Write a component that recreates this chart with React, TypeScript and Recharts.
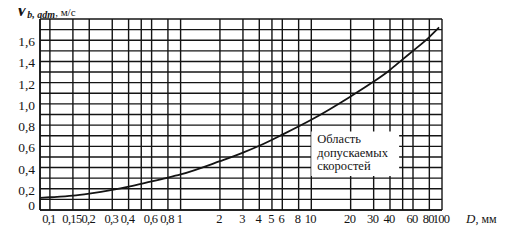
import { LineChart, Line, XAxis, YAxis, CartesianGrid, ReferenceArea } from "recharts";

// диаметр D, мм (лог. шкала) и допустимая скорость V, м/с
const dValues = [0.084, 0.1, 0.15, 0.2, 0.3, 0.4, 0.6, 0.8, 1, 2, 3, 4, 6, 10, 20, 30, 40, 50, 60, 80, 95];
const vValues = [0.115, 0.12, 0.135, 0.155, 0.19, 0.22, 0.27, 0.305, 0.335, 0.46, 0.54, 0.605, 0.71, 0.85, 1.07, 1.21, 1.32, 1.42, 1.5, 1.63, 1.72];

const xTicks = [0.1, 0.15, 0.2, 0.3, 0.4, 0.5, 0.6, 0.8, 1, 2, 3, 4, 5, 6, 8, 10, 20, 30, 40, 50, 60, 80, 100];
const xTickLabels = ["0,1", "0,15", "0,2", "0,3", "0,4", "", "0,6", "0,8", "1", "2", "3", "4", "5", "6", "8", "10", "20", "30", "40", "", "60", "80", "100"];

const yTicks = [0, 0.1, 0.2, 0.3, 0.4, 0.5, 0.6, 0.7, 0.8, 0.9, 1.0, 1.1, 1.2, 1.3, 1.4, 1.5, 1.6, 1.7, 1.8];
const yTickLabels = ["0", "", "0,2", "", "0,4", "", "0,6", "", "0,8", "", "1,0", "", "1,2", "", "1,4", "", "1,6", "", ""];

const regionLines = ["Область", "допускаемых", "скоростей"];

const data = dValues.map((d, i) => ({ d, v: vValues[i] }));

const FONT = '"Liberation Serif", "DejaVu Serif", serif';
const INK = "#141414";

function XTick(props: any) {
  const { x, y, payload } = props;
  const label = xTickLabels[xTicks.indexOf(payload.value)];
  if (!label) return null;
  return (
    <text x={x - 1} y={y} dy={10} textAnchor="middle" fontSize={12.5} letterSpacing={-0.7} fontFamily={FONT} fill={INK}>
      {label}
    </text>
  );
}

function YTick(props: any) {
  const { x, y, payload } = props;
  const label = yTickLabels[yTicks.indexOf(payload.value)];
  if (!label) return null;
  return (
    <text x={x} y={y} dy={payload.value === 0 ? 0 : 6} textAnchor="end" fontSize={13.5} fontFamily={FONT} fill={INK}>
      {label}
    </text>
  );
}

function RegionLabel(props: any) {
  const vb = props.viewBox || {};
  return (
    <g>
      {regionLines.map((t, i) => (
        <text key={t} x={vb.x + 6} y={vb.y + 12 + i * 13.5} fontSize={12.5} fontFamily={FONT} fill={INK}>
          {t}
        </text>
      ))}
    </g>
  );
}

export default function App() {
  return (
    <div style={{ position: "relative", width: 514, height: 244, margin: -8, background: "#fff", fontFamily: FONT, color: INK }}>
      <LineChart width={514} height={244} data={data} margin={{ top: 19, right: 72, bottom: 0, left: 0 }}>
        <CartesianGrid stroke={INK} strokeWidth={1.4} />
        <XAxis
          dataKey="d"
          type="number"
          scale="log"
          domain={[0.084, 100]}
          allowDataOverflow
          ticks={xTicks}
          interval={0}
          tickSize={0}
          tickMargin={3}
          tickLine={false}
          axisLine={{ stroke: INK, strokeWidth: 1.6 }}
          tick={<XTick />}
          height={34}
        />
        <YAxis
          type="number"
          domain={[0, 1.8]}
          ticks={yTicks}
          interval={0}
          width={40}
          tickSize={0}
          tickMargin={5}
          tickLine={false}
          axisLine={{ stroke: INK, strokeWidth: 1.6 }}
          tick={<YTick />}
        />
        <ReferenceArea
          x1={10}
          x2={47}
          y1={0.32}
          y2={0.74}
          fill="#fff"
          fillOpacity={1}
          stroke="none"
          label={<RegionLabel />}
        />
        <Line
          type="monotone"
          dataKey="v"
          stroke={INK}
          strokeWidth={1.8}
          dot={false}
          isAnimationActive={false}
        />
      </LineChart>
      <svg width={120} height={22} style={{ position: "absolute", left: 14, top: 0 }}>
        <text x={2} y={16} fontFamily={FONT} fill={INK}>
          <tspan fontSize={17} fontStyle="italic" fontWeight="bold">V</tspan>
          <tspan fontSize={10} fontStyle="italic" fontWeight="bold" dy={2}>b, adm</tspan>
          <tspan fontSize={11} dy={-2}>, м/с</tspan>
        </text>
      </svg>
      <svg width={50} height={20} style={{ position: "absolute", left: 464, top: 211 }}>
        <text x={2} y={12} fontFamily={FONT} fill={INK}>
          <tspan fontSize={13} fontStyle="italic">D</tspan>
          <tspan fontSize={12}>, мм</tspan>
        </text>
      </svg>
    </div>
  );
}
